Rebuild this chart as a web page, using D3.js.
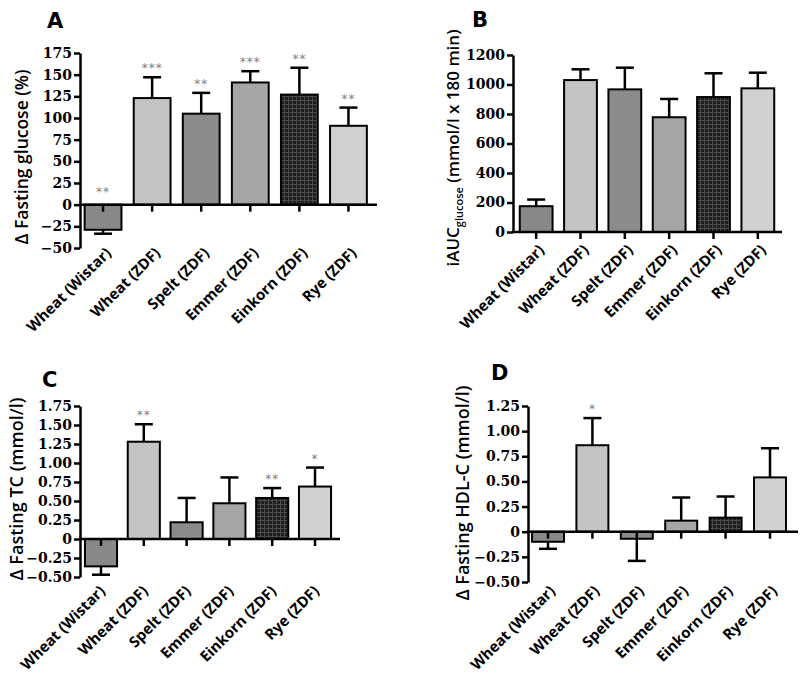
<!DOCTYPE html>
<html>
<head>
<meta charset="utf-8">
<script src="https://cdn.jsdelivr.net/npm/d3@7"></script>
<style>
  html, body { margin: 0; padding: 0; background: #fff; }
  svg { display: block; }
  .tick text { font-family: "DejaVu Serif", serif; font-weight: bold; font-size: 14px; fill: #000; }
</style>
</head>
<body>
<svg id="chart" width="800" height="678"></svg>
<script>
// ---------------- DATA ----------------
const categories = ["Wheat (Wistar)", "Wheat (ZDF)", "Spelt (ZDF)", "Emmer (ZDF)", "Einkorn (ZDF)", "Rye (ZDF)"];

const glucoseMean = [-29, 123, 105, 141, 127, 91];
const glucoseSem  = [4.5, 24, 24, 13, 31, 21];
const glucoseStars = ["**", "***", "**", "***", "**", "**"];
const glucoseTicks = [-50, -25, 0, 25, 50, 75, 100, 125, 150, 175];

const aucMean = [175, 1030, 967, 778, 915, 974];
const aucSem  = [45, 73, 147, 124, 161, 106];
const aucStars = ["", "", "", "", "", ""];
const aucTicks = [0, 200, 400, 600, 800, 1000, 1200];

const tcMean = [-0.36, 1.28, 0.22, 0.47, 0.54, 0.69];
const tcSem  = [0.11, 0.23, 0.32, 0.34, 0.13, 0.25];
const tcStars = ["", "**", "", "", "**", "*"];
const tcTicks = [-0.5, -0.25, 0, 0.25, 0.5, 0.75, 1.0, 1.25, 1.5, 1.75];

const hdlMean = [-0.10, 0.86, -0.07, 0.11, 0.14, 0.54];
const hdlSem  = [0.07, 0.27, 0.22, 0.23, 0.21, 0.29];
const hdlStars = ["", "*", "", "", "", ""];
const hdlTicks = [-0.5, -0.25, 0, 0.25, 0.5, 0.75, 1.0, 1.25];

// ---------------- STYLE ----------------
const barFills = ["#8a8a8a", "#c6c6c6", "#8e8e8e", "#a8a8a8", "#1e1e1e", "#d3d3d3"];
const dotFills = ["#7a7a7a", "#b4b4b4", "#7c7c7c", "#959595", "#4a4a4a", "#c2c2c2"];

const svg = d3.select("#chart");
const defs = svg.append("defs");
barFills.forEach((c, i) => {
  const p = defs.append("pattern").attr("id", "pat" + i)
    .attr("patternUnits", "userSpaceOnUse").attr("width", 4).attr("height", 4);
  p.append("rect").attr("width", 4).attr("height", 4).attr("fill", c);
  if (i === 4) {
    p.append("rect").attr("x", 0).attr("y", 0).attr("width", 4).attr("height", 1).attr("fill", dotFills[i]);
    p.append("rect").attr("x", 0).attr("y", 0).attr("width", 1).attr("height", 4).attr("fill", dotFills[i]);
  } else {
    p.append("rect").attr("x", 1).attr("y", 1).attr("width", 1).attr("height", 1).attr("fill", dotFills[i]);
    p.append("rect").attr("x", 3).attr("y", 3).attr("width", 1).attr("height", 1).attr("fill", dotFills[i]);
  }
});

const fmtDec = d => d === 0 ? "0" : d3.format(".2f")(d);
const fmtInt = d => d3.format("d")(d);

function drawPanel(cfg) {
  const g = svg.append("g");
  const x = d3.scaleBand().domain(categories).range(cfg.xr)
    .paddingInner(cfg.pad).paddingOuter(cfg.pad / 2);
  const y = d3.scaleLinear().domain(cfg.yDomain).range(cfg.yr);
  const y0 = y(0);
  const bw = x.bandwidth();

  // bars
  g.selectAll("rect.bar").data(cfg.mean).join("rect")
    .attr("class", "bar")
    .attr("x", (d, i) => x(categories[i]))
    .attr("width", bw)
    .attr("y", d => Math.min(y(d), y0))
    .attr("height", d => Math.abs(y(d) - y0))
    .attr("fill", (d, i) => "url(#pat" + i + ")")
    .attr("stroke", "#000").attr("stroke-width", 2);

  // error bars
  const capW = 18;
  cfg.mean.forEach((m, i) => {
    const cx = x(categories[i]) + bw / 2;
    const end = m >= 0 ? m + cfg.sem[i] : m - cfg.sem[i];
    g.append("line").attr("x1", cx).attr("x2", cx)
      .attr("y1", y(m)).attr("y2", y(end))
      .attr("stroke", "#000").attr("stroke-width", 2.5);
    g.append("line").attr("x1", cx - capW / 2).attr("x2", cx + capW / 2)
      .attr("y1", y(end)).attr("y2", y(end))
      .attr("stroke", "#000").attr("stroke-width", 2.5);
    const s = cfg.stars[i];
    if (s) {
      const sy = m >= 0 ? y(end) - 5 : y0 - 9;
      g.append("text").attr("x", cx).attr("y", sy)
        .attr("text-anchor", "middle")
        .attr("font-family", "DejaVu Sans, sans-serif")
        .attr("font-size", 12).attr("fill", "#808080")
        .attr("letter-spacing", 1)
        .text(s);
    }
  });

  // y axis
  const ya = g.append("g").attr("transform", `translate(${cfg.axisX},0)`)
    .call(d3.axisLeft(y).tickValues(cfg.ticks).tickFormat(cfg.fmt).tickSize(6).tickSizeOuter(0).tickPadding(2));
  ya.select(".domain").attr("stroke-width", 2.5).attr("stroke", "#000");
  ya.selectAll(".tick line").attr("stroke-width", 2.5).attr("stroke", "#000");

  // x axis (at zero)
  const xa = g.append("g").attr("transform", `translate(0,${y0})`)
    .call(d3.axisBottom(x).tickSize(7).tickSizeOuter(0).tickFormat(""));
  xa.select(".domain").remove();
  xa.selectAll(".tick line").attr("stroke-width", 2.5).attr("stroke", "#000");
  g.append("line").attr("x1", cfg.axisX - 1).attr("x2", cfg.axisEnd)
    .attr("y1", y0).attr("y2", y0)
    .attr("stroke", "#000").attr("stroke-width", 2.5);

  // category labels
  const yb = cfg.yr[0];
  g.selectAll("text.cat").data(categories).join("text")
    .attr("class", "cat")
    .attr("transform", d => `translate(${x(d) + bw / 2 + cfg.labDx},${yb + cfg.labDy}) rotate(-45)`)
    .attr("text-anchor", "end")
    .attr("font-family", "Open Sans, sans-serif")
    .attr("font-weight", "bold")
    .attr("font-size", 15)
    .attr("fill", "#000")
    .text(d => d);

  // y title
  const t = g.append("text")
    .attr("transform", `translate(${cfg.titleX},${cfg.titleY}) rotate(-90)`)
    .attr("text-anchor", "middle")
    .attr("font-family", "Open Sans, sans-serif")
    .attr("font-weight", 600)
    .attr("font-size", cfg.titleSize)
    .attr("fill", "#000");
  if (cfg.titleParts) {
    t.append("tspan").text(cfg.titleParts[0]);
    t.append("tspan").attr("dy", 4).attr("font-size", 11).text(cfg.titleParts[1]);
    t.append("tspan").attr("dy", -4).text(cfg.titleParts[2]);
  } else {
    t.text(cfg.title);
  }

  // panel letter
  g.append("text").attr("x", cfg.letterX).attr("y", cfg.letterY)
    .attr("font-family", "DejaVu Sans, sans-serif")
    .attr("font-weight", "bold").attr("font-size", 21)
    .attr("fill", "#000").text(cfg.letter);
}

drawPanel({
  mean: glucoseMean, sem: glucoseSem, stars: glucoseStars, ticks: glucoseTicks, fmt: fmtInt,
  yDomain: [-50, 175], yr: [248, 53], xr: [78.5, 373], pad: 0.25,
  axisX: 80, axisEnd: 377, labDx: 9, labDy: 6,
  title: "Δ Fasting glucose (%)", titleSize: 17.5, titleX: 28, titleY: 157,
  letter: "A", letterX: 47, letterY: 28
});

drawPanel({
  mean: aucMean, sem: aucSem, stars: aucStars, ticks: aucTicks, fmt: fmtInt,
  yDomain: [0, 1200], yr: [232, 55], xr: [514, 780], pad: 0.26,
  axisX: 513, axisEnd: 782, labDx: 9, labDy: 19,
  titleParts: ["iAUC", "glucose", " (mmol/l x 180 min)"], titleSize: 17, titleX: 459, titleY: 148,
  letter: "B", letterX: 472, letterY: 27
});

drawPanel({
  mean: tcMean, sem: tcSem, stars: tcStars, ticks: tcTicks, fmt: fmtDec,
  yDomain: [-0.5, 1.75], yr: [577, 406], xr: [79.6, 336.4], pad: 0.25,
  axisX: 80, axisEnd: 340, labDx: 5, labDy: 15,
  title: "Δ Fasting TC (mmol/l)", titleSize: 18, titleX: 23, titleY: 489,
  letter: "C", letterX: 42, letterY: 387
});

drawPanel({
  mean: hdlMean, sem: hdlSem, stars: hdlStars, ticks: hdlTicks, fmt: fmtDec,
  yDomain: [-0.5, 1.25], yr: [582, 406], xr: [525.8, 792.2], pad: 0.28,
  axisX: 528, axisEnd: 798, labDx: 8, labDy: 10,
  title: "Δ Fasting HDL-C (mmol/l)", titleSize: 18, titleX: 469, titleY: 493,
  letter: "D", letterX: 491, letterY: 380
});
</script>
</body>
</html>
